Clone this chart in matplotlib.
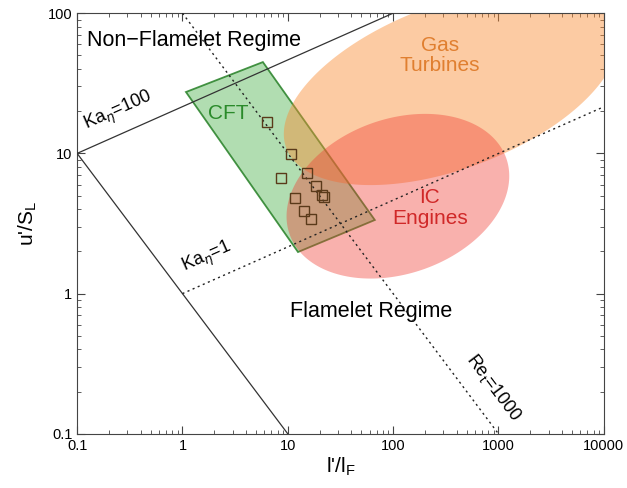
import numpy as np
import matplotlib.pyplot as plt
from matplotlib.ticker import FixedLocator, FormatStrFormatter, LogLocator, NullFormatter

plt.rcParams['font.family'] = ['Liberation Sans', 'DejaVu Sans']

# regime boundaries
ka100_x = [0.1, 100]
ka100_y = [10, 100]
ka1_x = [1, 10000]
ka1_y = [1, 21.5]
re1_x = [0.1, 10]
re1_y = [10, 0.1]
re1000_x = [1, 1000]
re1000_y = [100, 0.1]

# CFT box corners
cft_x = [1.08, 5.8, 67, 12.5]
cft_y = [27.4, 44.8, 3.35, 1.98]

# measurements
pts_x = [6.35, 10.7, 15.2, 8.6, 18.5, 21.1, 22.0, 11.7, 14.3, 16.6]
pts_y = [16.7, 9.9, 7.25, 6.68, 5.86, 5.05, 4.89, 4.81, 3.88, 3.41]

# ellipses: centre (x, y), semi axes in x-decades, tilt on screen (deg)
gt_center = (355, 30)
gt_axes = (1.67, 0.78)
gt_angle = 20.5
ic_center = (111, 4.95)
ic_axes = (1.09, 0.735)
ic_angle = 19.3

fig = plt.figure(figsize=(6.27, 4.88), dpi=100)
left, right, bottom, top = 0.123, 0.963, 0.111, 0.973
ax = fig.add_axes([left, bottom, right - left, top - bottom])
# y-decades per x-decade of screen length
k = (3 * 627 * (right - left)) / (5 * 488 * (top - bottom))


def ellipse(center, axes, ang):
    t = np.linspace(0, 2 * np.pi, 400)
    th = np.radians(ang)
    a, b = axes
    ex = a * np.cos(t) * np.cos(th) - b * np.sin(t) * np.sin(th)
    ey = a * np.cos(t) * np.sin(th) + b * np.sin(t) * np.cos(th)
    return 10 ** (np.log10(center[0]) + ex), 10 ** (np.log10(center[1]) + ey * k)


ax.fill(cft_x, cft_y, facecolor=(0.24, 0.67, 0.24, 0.4), edgecolor=(0.15, 0.5, 0.15, 0.85), lw=1.3, zorder=1)
ex, ey = ellipse(gt_center, gt_axes, gt_angle)
ax.fill(ex, ey, color=(0.98, 0.55, 0.2), alpha=0.45, lw=0, zorder=2)
ex, ey = ellipse(ic_center, ic_axes, ic_angle)
ax.fill(ex, ey, color=(0.94, 0.24, 0.2), alpha=0.4, lw=0, zorder=3)

ax.plot(ka100_x, ka100_y, color='#333333', lw=0.9, zorder=4)
ax.plot(re1_x, re1_y, color='#333333', lw=0.9, zorder=4)
ax.plot(ka1_x, ka1_y, color='#222222', lw=1, ls=(0, (1.5, 2.5)), zorder=4)
ax.plot(re1000_x, re1000_y, color='#222222', lw=1, ls=(0, (1.5, 2.5)), zorder=4)

ax.plot(pts_x, pts_y, ls='none', marker='s', ms=6.5, mfc='none', mec='#5a3a1a', mew=1, zorder=5)

ax.set_xscale('log')
ax.set_yscale('log')
ax.set_xlim(0.1, 10000)
ax.set_ylim(0.1, 100)
ax.xaxis.set_major_locator(FixedLocator([0.1, 1, 10, 100, 1000, 10000]))
ax.yaxis.set_major_locator(FixedLocator([0.1, 1, 10, 100]))
ax.xaxis.set_major_formatter(FormatStrFormatter('%g'))
ax.yaxis.set_major_formatter(FormatStrFormatter('%g'))
ax.xaxis.set_minor_locator(LogLocator(subs=np.arange(2, 10)))
ax.yaxis.set_minor_locator(LogLocator(subs=np.arange(2, 10)))
ax.xaxis.set_minor_formatter(NullFormatter())
ax.yaxis.set_minor_formatter(NullFormatter())
ax.tick_params(which='both', direction='in', top=True, right=True, color='#444444', labelsize=10.5)
ax.tick_params(which='major', length=6)
ax.tick_params(which='minor', length=3)
for s in ax.spines.values():
    s.set_color('#444444')

ax.set_xlabel("l'/l$_\\mathregular{F}$", fontsize=15, labelpad=2)
ax.set_ylabel("u'/S$_\\mathregular{L}$", fontsize=15, labelpad=6)

ax.text(0.124, 64, 'Non\u2212Flamelet Regime', fontsize=15.5, va='center', ha='left')
ax.text(10.5, 0.74, 'Flamelet Regime', fontsize=15.5, va='center', ha='left')
ax.text(278, 50, 'Gas\nTurbines', fontsize=15, color='#e07f30', ha='center', va='center', linespacing=1.1)
ax.text(223, 4.08, 'IC\nEngines', fontsize=15, color='#d02828', ha='center', va='center', linespacing=1.1)
ax.text(2.71, 19.4, 'CFT', fontsize=15, color='#2a8a2a', ha='center', va='center')
ax.text(0.245, 19.7, 'Ka$_\\eta$=100', fontsize=13, rotation=24, ha='center', va='center')
ax.text(1.71, 1.80, 'Ka$_\\eta$=1', fontsize=13, rotation=24, ha='center', va='center')
ax.text(904, 0.213, 'Re$_\\mathregular{t}$=1000', fontsize=13, rotation=-53, ha='center', va='center')

fig.savefig('out.png', dpi=100)
